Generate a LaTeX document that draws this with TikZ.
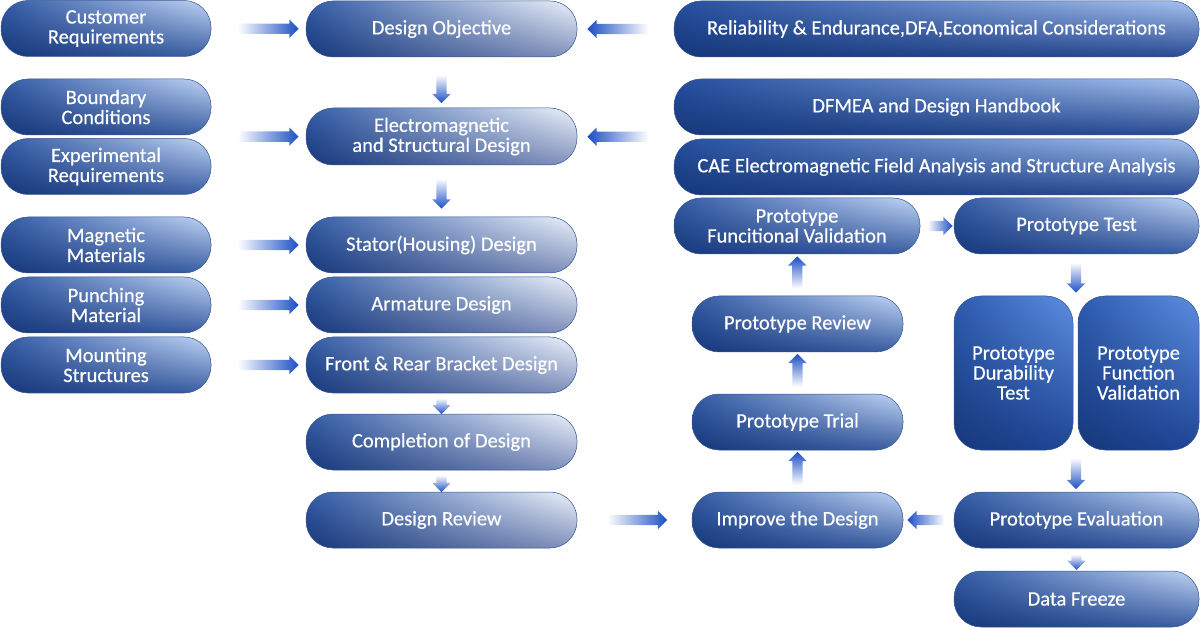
\documentclass[tikz,border=0pt]{standalone}
\usepackage{fontspec}
\setmainfont{Carlito}
\newfontfamily\stepfamily[FakeBold=0.4]{Carlito}
\usetikzlibrary{calc}
\usetikzlibrary{shapes.arrows}
\usetikzlibrary{shadings}
\definecolor{navy}{HTML}{16377A}
\definecolor{edgeblue}{HTML}{34548F}
\definecolor{arrowblue}{HTML}{1C4FC4}
\newcommand\stepfont{\stepfamily\fontsize{20.5}{20}\selectfont}
\tikzset{stepbox/.style = {rectangle, rounded corners = 27pt, draw = edgeblue, line width = 0.5pt,
    text = white, align = center, inner sep = 0, font = \stepfont, lower left = navy}}
\tikzset{pale/.style = {stepbox, upper left = {rgb,255:red,52;green,92;blue,166},
    lower right = {rgb,255:red,130;green,146;blue,188}, upper right = {rgb,255:red,238;green,243;blue,252}}}
\tikzset{soft/.style = {stepbox, upper left = {rgb,255:red,50;green,90;blue,165},
    lower right = {rgb,255:red,58;green,94;blue,163}, upper right = {rgb,255:red,194;green,214;blue,246}}}
\tikzset{wide/.style = {stepbox, upper left = {rgb,255:red,36;green,78;blue,158},
    lower right = {rgb,255:red,40;green,74;blue,146}, upper right = {rgb,255:red,168;green,196;blue,240}}}
\tikzset{tall/.style = {stepbox, upper left = {rgb,255:red,45;green,91;blue,176},
    lower right = {rgb,255:red,30;green,69;blue,151}, upper right = {rgb,255:red,94;green,143;blue,224}}}
\tikzset{flowarr/.style = {single arrow, draw = none, inner sep = 5pt, minimum width = 0pt,
    single arrow head extend = 4pt, single arrow tip angle = 90}}
\tikzset{arrR/.style = {flowarr, shape border rotate = 0, minimum height = #1,
    left color = white, right color = arrowblue}, arrR/.default = 61pt}
\tikzset{arrL/.style = {flowarr, shape border rotate = 180, minimum height = #1,
    left color = arrowblue, right color = white}, arrL/.default = 61pt}
\tikzset{arrD/.style = {flowarr, shape border rotate = 270, minimum height = #1,
    top color = white, bottom color = arrowblue}, arrD/.default = 30pt}
\tikzset{arrU/.style = {flowarr, shape border rotate = 90, minimum height = #1,
    top color = arrowblue, bottom color = white}, arrU/.default = 33pt}

\begin{document}
\begin{tikzpicture}[x = 1pt, y = -1pt]
    \useasboundingbox (0, 0) rectangle (1200, 628);

    % inputs
    \node [soft, minimum width = 210pt, minimum height = 56pt] (cust) at (106, 28.5) {Customer\\Requirements};
    \node [soft, minimum width = 210pt, minimum height = 56pt] (bound) at (106, 107) {Boundary\\Conditions};
    \node [soft, minimum width = 210pt, minimum height = 56pt] (expt) at (106, 166.5) {Experimental\\Requirements};
    \node [soft, minimum width = 210pt, minimum height = 56pt] (magn) at (106, 245) {Magnetic\\Materials};
    \node [soft, minimum width = 210pt, minimum height = 56pt] (punch) at (106, 305) {Punching\\Material};
    \node [soft, minimum width = 210pt, minimum height = 56pt] (mount) at (106, 365) {Mounting\\Structures};

    % design
    \node [pale, minimum width = 271pt, minimum height = 56pt] (obj) at (441.5, 29) {Design Objective};
    \node [pale, minimum width = 271pt, minimum height = 57pt] (emsd) at (441.5, 136.5) {Electromagnetic\\and Structural Design};
    \node [pale, minimum width = 271pt, minimum height = 56pt] (stator) at (441.5, 245) {Stator(Housing) Design};
    \node [pale, minimum width = 271pt, minimum height = 56pt] (arm) at (441.5, 305) {Armature Design};
    \node [pale, minimum width = 271pt, minimum height = 56pt] (brk) at (441.5, 365) {Front \& Rear Bracket Design};
    \node [pale, minimum width = 271pt, minimum height = 56pt] (compl) at (441.5, 442) {Completion of Design};
    \node [pale, minimum width = 271pt, minimum height = 56pt] (drev) at (441.5, 520) {Design Review};

    % considerations
    \node [wide, minimum width = 525pt, minimum height = 56pt] (rel) at (936.5, 29) {Reliability \& Endurance,DFA,Economical Considerations};
    \node [wide, minimum width = 525pt, minimum height = 56pt] (dfmea) at (936.5, 107) {DFMEA and Design Handbook};
    \node [wide, minimum width = 525pt, minimum height = 56pt] (cae) at (936.5, 167) {CAE Electromagnetic Field Analysis and Structure Analysis};

    % prototype loop
    \node [soft, minimum width = 246pt, minimum height = 56pt] (pfv) at (797, 226) {Prototype\\Funcitional Validation};
    \node [soft, minimum width = 245pt, minimum height = 56pt] (ptest) at (1076.5, 226) {Prototype Test};
    \node [soft, minimum width = 211pt, minimum height = 56pt] (prev) at (797.5, 324) {Prototype Review};
    \node [soft, minimum width = 211pt, minimum height = 56pt] (ptrial) at (797.5, 422) {Prototype Trial};
    \node [soft, minimum width = 211pt, minimum height = 56pt] (impr) at (797.5, 520) {Improve the Design};
    \node [tall, minimum width = 119pt, minimum height = 154pt] (pdur) at (1013.5, 373) {Prototype\\Durability\\Test};
    \node [tall, minimum width = 121pt, minimum height = 154pt] (pfun) at (1138.5, 373) {Prototype\\Function\\Validation};
    \node [soft, minimum width = 245pt, minimum height = 56pt] (peval) at (1076.5, 520) {Prototype Evaluation};
    \node [soft, minimum width = 245pt, minimum height = 56pt] (dfrz) at (1076.5, 599) {Data Freeze};

    % arrows
    \path (cust.east) -- node [arrR, xshift = 7pt] {} (obj.west);
    \path ($(bound.south east)!0.5!(expt.north east)$) -- node [arrR, xshift = 7pt] {} (emsd.west);
    \path (magn.east) -- node [arrR, xshift = 7pt] {} (stator.west);
    \path (punch.east) -- node [arrR, xshift = 7pt] {} (arm.west);
    \path (mount.east) -- node [arrR, xshift = 7pt] {} (brk.west);
    \path (rel.west) -- node [arrL, xshift = -5pt] {} (obj.east);
    \path ($(dfmea.south west)!0.5!(cae.north west)$) -- node [arrL, xshift = -5pt] {} (emsd.east);
    \path (obj.south) -- node [arrD = 28pt, yshift = -4pt] {} (emsd.north);
    \path (emsd.south) -- node [arrD] {} (stator.north);
    \path (brk.south) -- node [arrD = 16pt] {} (compl.north);
    \path (compl.south) -- node [arrD = 17pt] {} (drev.north);
    \path (drev.east) -- node [arrR = 60pt] {} (impr.west);
    \path (peval.west) -- node [arrL = 37pt] {} (impr.east);
    \path (impr.north) -- node [arrU] {} (ptrial.south);
    \path (ptrial.north) -- node [arrU] {} (prev.south);
    \path (prev.north) -- node [arrU = 32pt] {} (pfv.south);
    \path (pfv.east) -- node [arrR = 25pt, xshift = 0.5pt] {} (ptest.west);
    \path (ptest.south) -- node [arrD] {} ($(pdur.north east)!0.5!(pfun.north west)$);
    \path ($(pdur.south east)!0.5!(pfun.south west)$) -- node [arrD = 31pt] {} (peval.north);
    \path (peval.south) -- node [arrD = 15pt] {} (dfrz.north);
  \end{tikzpicture}
\end{document}
